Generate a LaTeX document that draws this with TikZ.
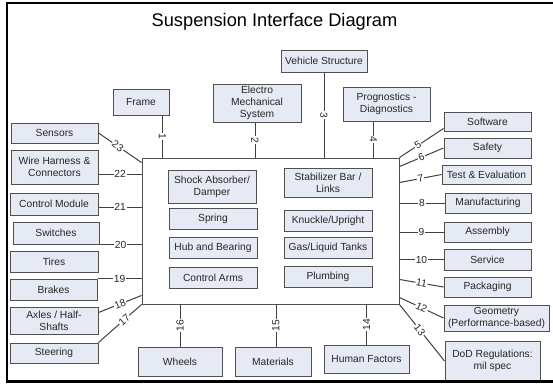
\documentclass[tikz,border=0pt]{standalone}
\usepackage{fontspec}
\setmainfont{Liberation Sans}
\usetikzlibrary{calc}
\definecolor{boxfill}{HTML}{E6EAF5}
\definecolor{boxline}{HTML}{505050}
\definecolor{linec}{HTML}{404040}
\newcommand\bx[6]{\node[ibox, minimum width={(#4-#2)*0.75}, minimum height={(#5-#3)*0.75}] (#1) at ({(#2+#4)/2},{(#3+#5)/2}) {#6};}
\begin{document}
\begin{tikzpicture}[x=0.75pt,y=-0.75pt,
  ibox/.style={draw=boxline, fill=boxfill, line width=0.75pt, align=center, inner sep=1pt,
    font=\fontsize{7.7}{8.8}\selectfont, text=black!85},
  mainbox/.style={draw=boxline, line width=0.7pt, fill=white},
  cn/.style={draw=linec, line width=0.75pt},
  lbl/.style={fill=white, inner sep=0.6pt, font=\fontsize{7.7}{8.8}\selectfont, text=black!85}]
\useasboundingbox (0,0) rectangle (553,383);
\node[font=\fontsize{13.7}{16}\selectfont] (title) at (274.5,22) {Suspension Interface Diagram};
% main box
\node[mainbox, minimum width={257*0.75}, minimum height={146*0.75}] (main) at (270.5,231) {};
% inner boxes
\bx{shock}{168}{170}{256}{203}{Shock Absorber/\\Damper}
\bx{spring}{169}{208}{257}{229}{Spring}
\bx{hub}{169}{237}{257}{258}{Hub and Bearing}
\bx{arms}{169}{267}{257}{288}{Control Arms}
\bx{stab}{284}{168}{372}{197}{Stabilizer Bar /\\Links}
\bx{knuckle}{284}{210}{372}{231}{Knuckle/Upright}
\bx{gas}{284}{237}{372}{258}{Gas/Liquid Tanks}
\bx{plumb}{284}{266}{372}{287}{Plumbing}
% top
\bx{frame}{113}{89}{169}{115}{Frame}
\bx{electro}{213}{84}{301}{122}{Electro\\Mechanical\\System}
\bx{vehicle}{281}{50}{367}{72}{Vehicle Structure}
\bx{prog}{343}{87}{430}{121}{Prognostics -\\Diagnostics}
% right
\bx{software}{444}{112}{531}{131}{Software}
\bx{safety}{444}{138}{531}{158}{Safety}
\bx{test}{442}{165}{531}{184}{Test \& Evaluation}
\bx{manuf}{445}{193}{531}{213}{Manufacturing}
\bx{assembly}{444}{222}{531}{242}{Assembly}
\bx{service}{444}{249}{531}{270}{Service}
\bx{packaging}{444}{277}{531}{297}{Packaging}
\bx{geometry}{444}{305}{549}{331}{Geometry\\(Performance-based)}
\bx{dod}{445}{341}{540}{381}{DoD Regulations:\\mil spec}
% left
\bx{sensors}{11}{123}{98}{143}{Sensors}
\bx{wire}{11}{150}{98}{184}{Wire Harness \&\\Connectors}
\bx{ctrl}{10}{193}{98}{215}{Control Module}
\bx{switches}{13}{222}{99}{244}{Switches}
\bx{tires}{10}{251}{98}{272}{Tires}
\bx{brakes}{10}{279}{97}{300}{Brakes}
\bx{axles}{10}{307}{98}{334}{Axles / Half-\\Shafts}
\bx{steering}{10}{343}{98}{363}{Steering}
% bottom
\bx{wheels}{138}{347}{222}{376}{Wheels}
\bx{materials}{235}{347}{311}{376}{Materials}
\bx{human}{324}{345}{409}{373}{Human Factors}
% connectors top
\coordinate (t1) at ($(frame.south east)+(-7,0)$);
\draw[cn] (t1) -- node[lbl,rotate=-90]{1} (t1 |- main.north);
\coordinate (t2) at ($(electro.south)+(-2,0)$);
\draw[cn] (t2) -- node[lbl,rotate=-90]{2} (t2 |- main.north);
\draw[cn] (vehicle.south) -- node[lbl,rotate=-90]{3} (vehicle.south |- main.north);
\coordinate (t4) at ($(prog.south)+(-13,0)$);
\draw[cn] (t4) -- node[lbl,rotate=-90]{4} (t4 |- main.north);
% connectors right
\draw[cn] (main.north east) -- node[lbl,sloped,pos=0.42]{5} ($(software.south west)+(0,-3)$);
\draw[cn] ($(main.north east)+(0,9)$) -- node[lbl,sloped]{6} (safety.west);
\draw[cn] ($(main.north east)+(0,25)$) -- node[lbl,sloped]{7} (test.west);
\draw[cn] (manuf.west -| main.east) -- node[lbl]{8} (manuf.west);
\draw[cn] (assembly.west -| main.east) -- node[lbl]{9} (assembly.west);
\draw[cn] (service.west -| main.east) -- node[lbl]{10} (service.west);
\draw[cn] ($(main.south east)+(0,-25)$) -- node[lbl,sloped]{11} (packaging.west);
\draw[cn] ($(main.south east)+(0,-7)$) -- node[lbl,sloped]{12} (geometry.west);
\draw[cn] (main.south east) -- node[lbl,sloped,pos=0.45]{13} (dod.west);
% connectors bottom
\draw[cn] (human.north) -- node[lbl,rotate=90]{14} (human.north |- main.south);
\coordinate (b15) at ($(materials.north)+(3,0)$);
\draw[cn] (b15) -- node[lbl,rotate=90]{15} (b15 |- main.south);
\draw[cn] (wheels.north) -- node[lbl,rotate=90]{16} (wheels.north |- main.south);
% connectors left
\draw[cn] (steering.north east) -- node[lbl,sloped,pos=0.6]{17} (main.south west);
\draw[cn] ($(axles.north east)+(0,6)$) -- node[lbl,sloped]{18} ($(main.south west)+(0,-9)$);
\draw[cn] (brakes.north east) -- node[lbl]{19} (brakes.north east -| main.west);
\draw[cn] (switches.south east) -- node[lbl]{20} (switches.south east -| main.west);
\coordinate (l21) at ($(ctrl.east)+(0,3)$);
\draw[cn] (l21) -- node[lbl]{21} (l21 -| main.west);
\coordinate (l22) at ($(wire.east)+(0,7)$);
\draw[cn] (l22) -- node[lbl]{22} (l22 -| main.west);
\draw[cn] (sensors.east) -- node[lbl,sloped,pos=0.45]{23} ($(main.north west)+(0,5)$);
% outer frame
\draw[line width=1.9pt] (7,3) rectangle (560,381.5);
\end{tikzpicture}
\end{document}
